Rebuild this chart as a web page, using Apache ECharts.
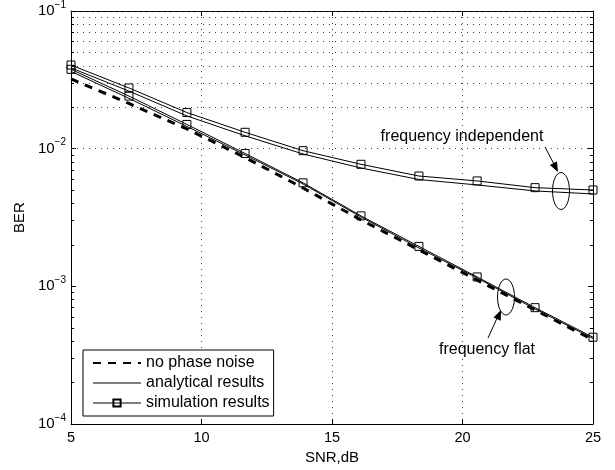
<!DOCTYPE html>
<html>
<head>
<meta charset="utf-8">
<script src="https://cdn.jsdelivr.net/npm/echarts@6/dist/echarts.min.js"></script>
<style>
html, body { margin: 0; padding: 0; background: #fff; }
#app { width: 615px; height: 470px; }
</style>
</head>
<body>
<div id="app"></div>
<script>
// SNR points (dB)
var snr = [5, 7.22, 9.44, 11.67, 13.89, 16.11, 18.33, 20.56, 22.78, 25];
// BER curves
var noPhaseNoise = [0.0321, 0.0213, 0.0139, 0.00863, 0.00518, 0.00304, 0.00184, 0.00111, 0.000674, 0.000408];
var indepAnalytic = [0.0386, 0.0262, 0.0173, 0.0124, 0.00915, 0.00724, 0.00597, 0.00545, 0.00493, 0.00469];
var indepSim = [0.0405, 0.0276, 0.0183, 0.01315, 0.00967, 0.0077, 0.00633, 0.00583, 0.00521, 0.00501];
var flatAnalytic = [0.0364, 0.0232, 0.0145, 0.0090, 0.00554, 0.00319, 0.0019, 0.00115, 0.000685, 0.000418];
var flatSim = [0.0377, 0.0241, 0.0150, 0.00923, 0.00565, 0.00325, 0.00195, 0.00117, 0.00070, 0.000427];
var yMin = 1e-4, yMax = 1e-1;

var FONT = 'Liberation Sans, Arial, Helvetica, sans-serif';
var HIDDEN = { color: 'rgba(0,0,0,0)', borderColor: 'rgba(0,0,0,0)', borderWidth: 0 };

function pairs(ys) {
    return snr.map(function (x, i) { return [x, ys[i]]; });
}

// log grid: 1..9 x 10^k
var gridY = [];
var minorY = [];
for (var k = -4; k <= -2; k++) {
    for (var m = 1; m <= 9; m++) {
        var v = m * Math.pow(10, k);
        gridY.push(v);
        if (m > 1) minorY.push(v);
    }
}
gridY.push(1e-1);

// small inward ticks on both sides
var tickMarks = [];
minorY.forEach(function (v) {
    tickMarks.push([{ coord: [5, v] }, { coord: [5.12, v] }]);
    tickMarks.push([{ coord: [24.88, v] }, { coord: [25, v] }]);
});

function supLabel(v) {
    var e = Math.round(Math.log10(v));
    return '{b|10}{s|' + (e < 0 ? '\u2212' : '') + Math.abs(e) + '}';
}

var chart = echarts.init(document.getElementById('app'));

var option = {
    animation: false,
    backgroundColor: '#fff',
    grid: { left: 71, right: 22, top: 11, bottom: 46 },
    legend: {
        left: 83,
        top: 350,
        orient: 'vertical',
        data: [
            { name: 'no phase noise', itemStyle: HIDDEN },
            { name: 'analytical results', itemStyle: HIDDEN, lineStyle: { width: 1 } },
            { name: 'simulation results', lineStyle: { width: 1 } }
        ],
        itemWidth: 48,
        itemHeight: 9,
        itemGap: 2,
        padding: [4, 4, 4, 9],
        backgroundColor: '#fff',
        borderColor: '#000',
        borderWidth: 1,
        borderRadius: 0,
        textStyle: { fontFamily: FONT, fontSize: 16, color: '#000', lineHeight: 18 }
    },
    xAxis: [{
        type: 'value',
        min: 5, max: 25, interval: 5,
        name: 'SNR,dB',
        nameLocation: 'middle',
        nameGap: 23,
        nameTextStyle: { fontFamily: FONT, fontSize: 15, color: '#000' },
        axisLine: { lineStyle: { color: '#000', width: 1 } },
        axisTick: { inside: true, length: 5, lineStyle: { color: '#000' } },
        axisLabel: { fontFamily: FONT, fontSize: 14.5, color: '#000', margin: 6 },
        splitLine: { show: true, lineStyle: { color: '#444', type: [1, 5], width: 1 } }
    }, {
        type: 'value',
        position: 'top',
        min: 5, max: 25, interval: 5,
        axisLine: { lineStyle: { color: '#000', width: 1 } },
        axisTick: { inside: true, length: 5, lineStyle: { color: '#000' } },
        axisLabel: { show: false },
        splitLine: { show: false }
    }],
    yAxis: [{
        type: 'log',
        logBase: 10,
        min: yMin, max: yMax,
        name: 'BER',
        nameLocation: 'middle',
        nameGap: 38,
        nameTextStyle: { fontFamily: FONT, fontSize: 15, color: '#000' },
        axisLine: { show: true, lineStyle: { color: '#000', width: 1 } },
        axisTick: { show: true, inside: true, length: 5, lineStyle: { color: '#000' } },
        axisLabel: {
            margin: 5,
            formatter: supLabel,
            rich: {
                b: { fontFamily: FONT, fontSize: 15, color: '#000', lineHeight: 22 },
                s: { fontFamily: FONT, fontSize: 10, color: '#000', verticalAlign: 'top', lineHeight: 12 }
            }
        },
        splitLine: { show: false }
    }, {
        type: 'log',
        logBase: 10,
        min: yMin, max: yMax,
        position: 'right',
        axisLine: { show: true, lineStyle: { color: '#000', width: 1 } },
        axisTick: { show: true, inside: true, length: 5, lineStyle: { color: '#000' } },
        axisLabel: { show: false },
        splitLine: { show: false }
    }],
    series: [{
        name: 'no phase noise',
        type: 'line',
        data: pairs(noPhaseNoise),
        symbol: 'none',
        z: 3,
        lineStyle: { color: '#000', width: 3, type: [8, 7] },
        itemStyle: { color: '#000' },
        markLine: {
            silent: true,
            symbol: ['none', 'none'],
            label: { show: false },
            z: 1,
            lineStyle: { color: '#444', type: [1, 5], width: 1 },
            data: gridY.map(function (v) { return { yAxis: v }; })
        }
    }, {
        name: 'analytical results',
        type: 'line',
        data: pairs(indepAnalytic),
        symbol: 'none',
        lineStyle: { color: '#000', width: 1 },
        itemStyle: { color: '#000' },
        markLine: {
            silent: true,
            symbol: ['none', 'none'],
            label: { show: false },
            lineStyle: { color: '#000', type: 'solid', width: 1 },
            data: tickMarks
        }
    }, {
        name: 'analytical results',
        type: 'line',
        data: pairs(flatAnalytic),
        symbol: 'none',
        lineStyle: { color: '#000', width: 1 },
        itemStyle: { color: '#000' }
    }, {
        name: 'simulation results',
        type: 'line',
        data: pairs(indepSim),
        symbol: 'rect',
        symbolSize: 8,
        lineStyle: { color: '#000', width: 1 },
        itemStyle: { color: 'rgba(255,255,255,0)', borderColor: '#000', borderWidth: 1 }
    }, {
        name: 'simulation results',
        type: 'line',
        data: pairs(flatSim),
        symbol: 'rect',
        symbolSize: 8,
        lineStyle: { color: '#000', width: 1 },
        itemStyle: { color: 'rgba(255,255,255,0)', borderColor: '#000', borderWidth: 1 }
    }],
    graphic: [
        { type: 'text', x: 462, y: 137, style: { text: 'frequency independent', font: '16px ' + FONT, fill: '#000', align: 'center', verticalAlign: 'middle' } },
        { type: 'line', shape: { x1: 545, y1: 147, x2: 555, y2: 166 }, style: { stroke: '#000', lineWidth: 1 } },
        { type: 'polygon', shape: { points: [[558, 172], [549.8, 164.9], [557, 161.2]] }, style: { fill: '#000' } },
        { type: 'ellipse', shape: { cx: 561, cy: 191, rx: 8.5, ry: 18.5 }, style: { stroke: '#000', fill: null, lineWidth: 1 } },
        { type: 'text', x: 487, y: 350, style: { text: 'frequency flat', font: '16px ' + FONT, fill: '#000', align: 'center', verticalAlign: 'middle' } },
        { type: 'line', shape: { x1: 488, y1: 338, x2: 498, y2: 316 }, style: { stroke: '#000', lineWidth: 1 } },
        { type: 'polygon', shape: { points: [[501, 310], [500.8, 320.8], [493.5, 317.5]] }, style: { fill: '#000' } },
        { type: 'ellipse', shape: { cx: 506, cy: 297, rx: 8.5, ry: 18 }, style: { stroke: '#000', fill: null, lineWidth: 1 } }
    ]
};

chart.setOption(option);
</script>
</body>
</html>
